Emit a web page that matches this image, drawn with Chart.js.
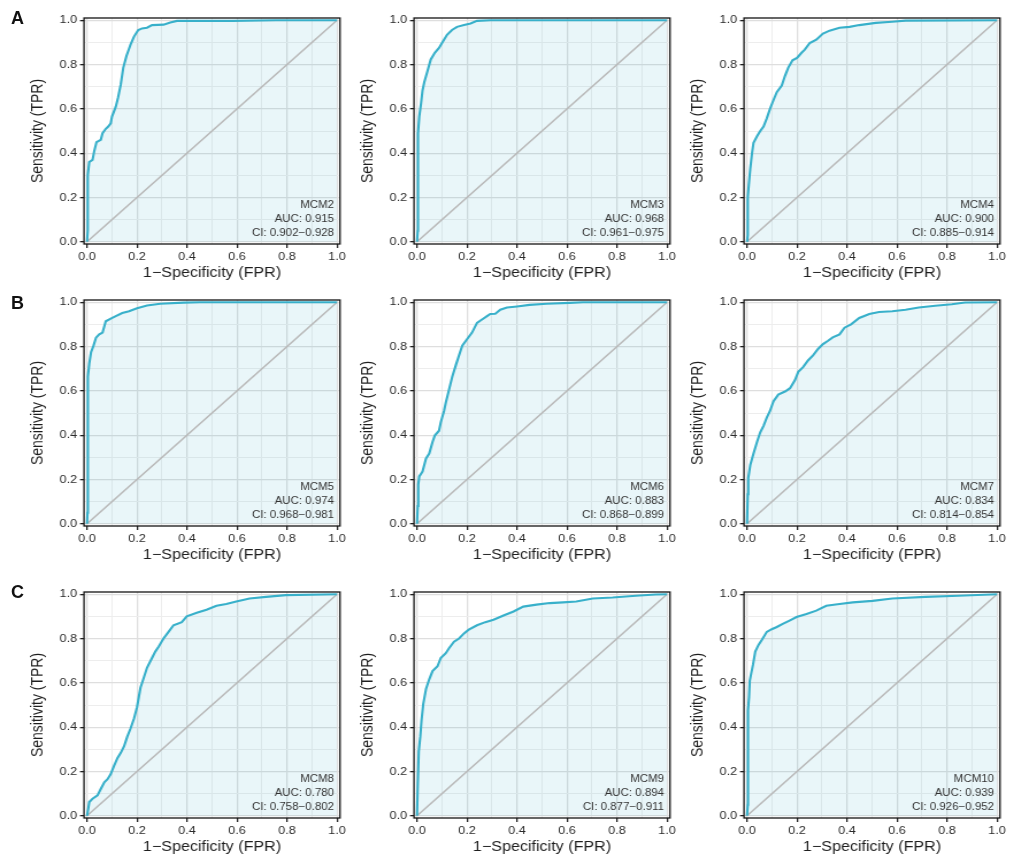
<!DOCTYPE html>
<html>
<head>
<meta charset="utf-8">
<script src="https://cdn.jsdelivr.net/npm/chart.js@4.4.1/dist/chart.umd.min.js"></script>
<style>
    body { margin: 0; background: #fff; width: 1010px; height: 856px; position: relative; overflow: hidden; font-family: 'Liberation Sans', Arial, sans-serif; }
    canvas { position: absolute; }
    .tag { position: absolute; font-weight: bold; font-size: 18px; line-height: 18px; color: #111; }
</style>
</head>
<body>
<script>
// tick positions shared by both axes (labels only on the even ones)
var tickValues = [0, 0.1, 0.2, 0.3, 0.4, 0.5, 0.6, 0.7, 0.8, 0.9, 1.0];

var markerNames = ['MCM2', 'MCM3', 'MCM4', 'MCM5', 'MCM6', 'MCM7', 'MCM8', 'MCM9', 'MCM10'];
var aucValues = ['0.915', '0.968', '0.900', '0.974', '0.883', '0.834', '0.780', '0.894', '0.939'];
var ciValues = ['0.902\u22120.928', '0.961\u22120.975', '0.885\u22120.914', '0.968\u22120.981', '0.868\u22120.899',
    '0.814\u22120.854', '0.758\u22120.802', '0.877\u22120.911', '0.926\u22120.952'];
var panelLetters = ['A', 'B', 'C'];

// ROC curves (FPR, TPR)
var mcm2Fpr = [0, 0.003, 0.003, 0.009, 0.022, 0.029, 0.038, 0.055, 0.062, 0.075, 0.085, 0.095, 0.10, 0.115, 0.124, 0.135, 0.145, 0.158, 0.174, 0.188, 0.205, 0.22, 0.24, 0.26, 0.306, 0.333, 0.36, 0.58, 0.755, 1.0];
var mcm2Tpr = [0, 0.05, 0.30, 0.36, 0.37, 0.41, 0.45, 0.46, 0.49, 0.51, 0.52, 0.535, 0.565, 0.61, 0.65, 0.71, 0.785, 0.84, 0.89, 0.926, 0.956, 0.963, 0.966, 0.978, 0.98, 0.99, 0.997, 0.997, 1.0, 1.0];

var mcm3Fpr = [0, 0.003, 0.003, 0.005, 0.009, 0.016, 0.022, 0.029, 0.042, 0.055, 0.071, 0.088, 0.10, 0.12, 0.14, 0.16, 0.188, 0.214, 0.24, 0.293, 1.0];
var mcm3Tpr = [0, 0.05, 0.417, 0.49, 0.565, 0.624, 0.683, 0.72, 0.771, 0.823, 0.853, 0.875, 0.897, 0.934, 0.956, 0.97, 0.978, 0.985, 0.997, 1.0, 1.0];

var mcm4Fpr = [0, 0.003, 0.003, 0.007, 0.013, 0.02, 0.026, 0.04, 0.053, 0.066, 0.079, 0.092, 0.106, 0.119, 0.139, 0.152, 0.165, 0.182, 0.2, 0.218, 0.231, 0.251, 0.277, 0.304, 0.33, 0.37, 0.41, 0.449, 0.515, 0.58, 0.634, 1.0];
var mcm4Tpr = [0, 0.03, 0.20, 0.255, 0.33, 0.40, 0.447, 0.476, 0.50, 0.52, 0.557, 0.60, 0.64, 0.675, 0.705, 0.749, 0.786, 0.819, 0.83, 0.853, 0.867, 0.897, 0.912, 0.94, 0.953, 0.966, 0.97, 0.978, 0.988, 0.993, 0.998, 1.0];

var mcm5Fpr = [0, 0.002, 0.002, 0.005, 0.009, 0.016, 0.026, 0.036, 0.049, 0.062, 0.075, 0.095, 0.115, 0.141, 0.168, 0.2, 0.24, 0.293, 0.386, 0.45, 1.0];
var mcm5Tpr = [0, 0.05, 0.649, 0.664, 0.723, 0.774, 0.804, 0.84, 0.855, 0.863, 0.914, 0.926, 0.937, 0.951, 0.959, 0.973, 0.985, 0.993, 0.998, 1.0, 1.0];

var mcm6Fpr = [0, 0.003, 0.005, 0.009, 0.022, 0.036, 0.049, 0.062, 0.071, 0.088, 0.095, 0.108, 0.115, 0.128, 0.141, 0.155, 0.168, 0.181, 0.2, 0.22, 0.24, 0.26, 0.28, 0.293, 0.313, 0.333, 0.36, 0.40, 0.45, 0.518, 0.61, 0.663, 1.0];
var mcm6Tpr = [0, 0.08, 0.177, 0.214, 0.236, 0.295, 0.317, 0.369, 0.398, 0.42, 0.457, 0.509, 0.546, 0.605, 0.664, 0.715, 0.76, 0.804, 0.833, 0.863, 0.907, 0.922, 0.937, 0.947, 0.948, 0.966, 0.976, 0.981, 0.988, 0.993, 0.997, 1.0, 1.0];

var mcm7Fpr = [0, 0.003, 0.005, 0.013, 0.026, 0.04, 0.053, 0.066, 0.079, 0.092, 0.106, 0.125, 0.152, 0.172, 0.192, 0.205, 0.225, 0.244, 0.264, 0.284, 0.304, 0.324, 0.343, 0.37, 0.39, 0.416, 0.449, 0.489, 0.528, 0.581, 0.634, 0.687, 0.753, 0.819, 0.872, 1.0];
var mcm7Tpr = [0, 0.133, 0.206, 0.265, 0.317, 0.369, 0.413, 0.442, 0.479, 0.509, 0.553, 0.583, 0.597, 0.612, 0.649, 0.686, 0.708, 0.737, 0.76, 0.789, 0.811, 0.826, 0.841, 0.855, 0.885, 0.90, 0.929, 0.947, 0.956, 0.959, 0.966, 0.976, 0.984, 0.991, 0.999, 1.0];

var mcm8Fpr = [0, 0.005, 0.009, 0.022, 0.042, 0.055, 0.069, 0.082, 0.095, 0.108, 0.122, 0.135, 0.148, 0.161, 0.174, 0.188, 0.2, 0.207, 0.214, 0.227, 0.24, 0.26, 0.273, 0.287, 0.306, 0.326, 0.346, 0.379, 0.399, 0.439, 0.478, 0.518, 0.557, 0.597, 0.65, 0.716, 0.795, 1.0];
var mcm8Tpr = [0, 0.032, 0.062, 0.077, 0.092, 0.121, 0.151, 0.165, 0.188, 0.225, 0.261, 0.284, 0.313, 0.357, 0.394, 0.439, 0.49, 0.535, 0.579, 0.623, 0.668, 0.712, 0.741, 0.764, 0.80, 0.83, 0.86, 0.874, 0.90, 0.916, 0.93, 0.948, 0.956, 0.967, 0.981, 0.988, 0.996, 1.0];

var mcm9Fpr = [0, 0.003, 0.007, 0.013, 0.018, 0.025, 0.036, 0.049, 0.062, 0.082, 0.095, 0.115, 0.128, 0.148, 0.168, 0.188, 0.207, 0.24, 0.273, 0.306, 0.346, 0.386, 0.425, 0.478, 0.531, 0.584, 0.637, 0.703, 0.782, 0.875, 0.954, 1.0];
var mcm9Tpr = [0, 0.136, 0.291, 0.357, 0.431, 0.505, 0.572, 0.616, 0.653, 0.675, 0.712, 0.734, 0.756, 0.786, 0.80, 0.823, 0.84, 0.86, 0.874, 0.885, 0.904, 0.922, 0.944, 0.953, 0.96, 0.963, 0.967, 0.981, 0.985, 0.993, 0.999, 1.0];

var mcm10Fpr = [0, 0.003, 0.003, 0.005, 0.008, 0.011, 0.016, 0.024, 0.033, 0.046, 0.059, 0.079, 0.099, 0.119, 0.145, 0.172, 0.198, 0.238, 0.277, 0.317, 0.37, 0.423, 0.502, 0.581, 0.713, 0.845, 1.0];
var mcm10Tpr = [0, 0.05, 0.387, 0.476, 0.535, 0.609, 0.638, 0.682, 0.741, 0.771, 0.793, 0.83, 0.842, 0.852, 0.867, 0.882, 0.897, 0.911, 0.926, 0.948, 0.956, 0.963, 0.97, 0.981, 0.988, 0.993, 1.0];

var diagonalX = [0, 1];
var diagonalY = [0, 1];

var fprSeries = [mcm2Fpr, mcm3Fpr, mcm4Fpr, mcm5Fpr, mcm6Fpr, mcm7Fpr, mcm8Fpr, mcm9Fpr, mcm10Fpr];
var tprSeries = [mcm2Tpr, mcm3Tpr, mcm4Tpr, mcm5Tpr, mcm6Tpr, mcm7Tpr, mcm8Tpr, mcm9Tpr, mcm10Tpr];

(function () {
    var colLeft = [84, 414, 744];
    var rowTop = [18, 300, 592];
    var plotH = 226;
    var cssW = 354;              // 84 left margin + 256 plot + 14 right
    var drawW = 308;             // canvas is drawn narrower and stretched, like the source figure
    var s = cssW / drawW;
    var curveColor = '#38b0ca';
    var textColor = '#2a2a2a';

    var padLeft = 38 / s - 12.4; // puts the y title centre 38px from the canvas edge
    var yAxisW = 84 / s - padLeft;
    var padRight = 14 / s;

    Chart.defaults.font.family = "'Liberation Sans', Arial, sans-serif";

    function isMajor(v) {
        return Math.round(v * 10) % 2 === 0;
    }

    function points(xs, ys) {
        return xs.map(function (x, k) { return { x: x, y: ys[k] }; });
    }

    var panelBox = {
        id: 'panelBox',
        afterDatasetsDraw: function (chart, args, opts) {
            var a = chart.chartArea;
            var ctx = chart.ctx;
            ctx.save();
            ctx.strokeStyle = '#151515';
            ctx.lineWidth = 1.3;
            ctx.strokeRect(a.left, a.top, a.right - a.left, a.bottom - a.top);

            ctx.fillStyle = '#333';
            ctx.font = "10px 'Liberation Sans', Arial, sans-serif";
            ctx.textAlign = 'right';
            ctx.textBaseline = 'middle';
            (opts.lines || []).forEach(function (line, k) {
                ctx.fillText(line, a.right - 6 / s, a.bottom - 39 + k * 14);
            });
            ctx.restore();
        }
    };

    function axis(title, isX, pad) {
        return {
            type: 'linear',
            min: -pad,
            max: 1 + pad,
            afterBuildTicks: function (scale) {
                scale.ticks = tickValues.map(function (v) { return { value: v }; });
            },
            afterFit: function (scale) {
                if (isX) {
                    scale.height = 40;
                } else {
                    scale.width = yAxisW;
                }
            },
            ticks: {
                autoSkip: false,
                maxRotation: 0,
                padding: isX ? 2 : 2.5,
                color: textColor,
                font: { size: 11 },
                callback: function (v) { return isMajor(v) ? Number(v).toFixed(1) : ''; }
            },
            grid: {
                color: function (c) { return c.tick && isMajor(c.tick.value) ? '#dedede' : '#ededed'; },
                lineWidth: function (c) { return c.tick && isMajor(c.tick.value) ? 1.3 : 1; },
                tickLength: isX ? 4 : 3.5,
                tickColor: function (c) { return c.tick && isMajor(c.tick.value) ? '#222' : 'rgba(0,0,0,0)'; }
            },
            border: { display: false },
            title: {
                display: true,
                text: title,
                color: '#1e1e1e',
                font: { size: 14 },
                padding: isX ? { top: 0, bottom: 2 } : { top: 4, bottom: 0 }
            }
        };
    }

    markerNames.forEach(function (name, i) {
        var c = i % 3;
        var r = Math.floor(i / 3);
        var canvas = document.createElement('canvas');
        var cssH = 10 + plotH + 40;
        canvas.width = drawW;
        canvas.height = cssH;
        canvas.style.width = cssW + 'px';
        canvas.style.height = cssH + 'px';
        canvas.style.left = (colLeft[c] - 84) + 'px';
        canvas.style.top = (rowTop[r] - 10) + 'px';
        document.body.appendChild(canvas);

        new Chart(canvas, {
            type: 'line',
            data: {
                datasets: [
                    {
                        data: points(fprSeries[i], tprSeries[i]),
                        borderColor: curveColor,
                        backgroundColor: 'rgba(58, 175, 201, 0.11)',
                        borderWidth: 2.1,
                        pointRadius: 0,
                        tension: 0,
                        fill: 'origin'
                    },
                    {
                        data: points(diagonalX, diagonalY),
                        borderColor: '#b9b9b9',
                        borderWidth: 1.6,
                        pointRadius: 0,
                        fill: false
                    }
                ]
            },
            options: {
                responsive: false,
                animation: false,
                devicePixelRatio: 1,
                layout: { padding: { left: padLeft, top: 10, right: padRight, bottom: 0 } },
                plugins: {
                    legend: { display: false },
                    tooltip: { enabled: false },
                    filler: { drawTime: 'beforeDatasetsDraw' },
                    panelBox: { lines: [name, 'AUC: ' + aucValues[i], 'CI: ' + ciValues[i]] }
                },
                scales: {
                    x: axis('1\u2212Specificity (FPR)', true, 0.012),
                    y: axis('Sensitivity (TPR)', false, 0.01)
                }
            },
            plugins: [panelBox]
        });
    });

    panelLetters.forEach(function (letter, r) {
        var tag = document.createElement('div');
        tag.className = 'tag';
        tag.textContent = letter;
        tag.style.left = '11px';
        tag.style.top = (rowTop[r] - 9 + (r === 1 ? 3 : 0)) + 'px';
        document.body.appendChild(tag);
    });
}());
</script>
</body>
</html>
